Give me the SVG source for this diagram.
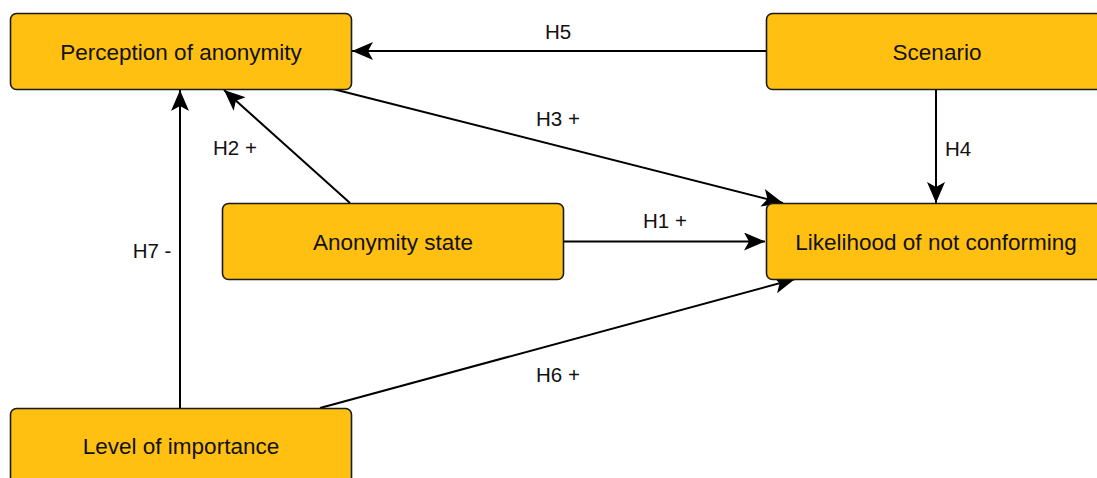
<svg xmlns="http://www.w3.org/2000/svg" width="1097" height="478" viewBox="0 0 1097 478">
<defs>
<style>
.node rect{fill:#FFC012;stroke:#1a1a1a;stroke-width:1.6}
.node text{font-family:"Liberation Sans",Arial,sans-serif;font-size:22.5px;fill:#111;text-anchor:middle}
.edge{stroke:#000;stroke-width:2;fill:none;marker-end:url(#arr)}
.lbl{font-family:"Liberation Sans",Arial,sans-serif;font-size:20.5px;fill:#111;text-anchor:middle}
</style>
<marker id="arr" markerUnits="userSpaceOnUse" markerWidth="24" markerHeight="20" refX="21" refY="9" orient="auto" viewBox="0 0 24 20">
<path d="M0,0 L21,9 L0,18 L5,9 z" fill="#000"/>
</marker>
</defs>
<rect width="1097" height="478" fill="#fff"/>
<g id="connectors">
<line class="edge" x1="766" y1="51" x2="352" y2="51"/>
<line class="edge" x1="333" y1="89" x2="783" y2="203"/>
<line class="edge" x1="936" y1="89" x2="936" y2="203"/>
<line class="edge" x1="563" y1="241.5" x2="765" y2="241.5"/>
<line class="edge" x1="350" y1="203" x2="224" y2="90"/>
<line class="edge" x1="320" y1="408" x2="795" y2="279"/>
<line class="edge" x1="180" y1="408" x2="180" y2="90"/>
<text class="lbl" x="558" y="39">H5</text>
<text class="lbl" x="558" y="126">H3 +</text>
<text class="lbl" x="958" y="155.5">H4</text>
<text class="lbl" x="665" y="228">H1 +</text>
<text class="lbl" x="235" y="155">H2 +</text>
<text class="lbl" x="558" y="381.5">H6 +</text>
<text class="lbl" x="152" y="258">H7 -</text>
</g>
<g id="perception" class="node">
<rect x="10.5" y="13.5" width="341" height="76" rx="6"/>
<text x="181" y="59.5">Perception of anonymity</text>
</g>
<g id="scenario" class="node">
<rect x="766.5" y="13.5" width="341" height="76" rx="6"/>
<text x="937" y="59.5">Scenario</text>
</g>
<g id="anonymity-state" class="node">
<rect x="222.5" y="203.5" width="341" height="76" rx="6"/>
<text x="393" y="249.5">Anonymity state</text>
</g>
<g id="likelihood" class="node">
<rect x="766.5" y="203.5" width="341" height="76" rx="6"/>
<text x="936" y="249.5">Likelihood of not conforming</text>
</g>
<g id="importance" class="node">
<rect x="10.5" y="408.5" width="341" height="76" rx="6"/>
<text x="181" y="454">Level of importance</text>
</g>
</svg>
